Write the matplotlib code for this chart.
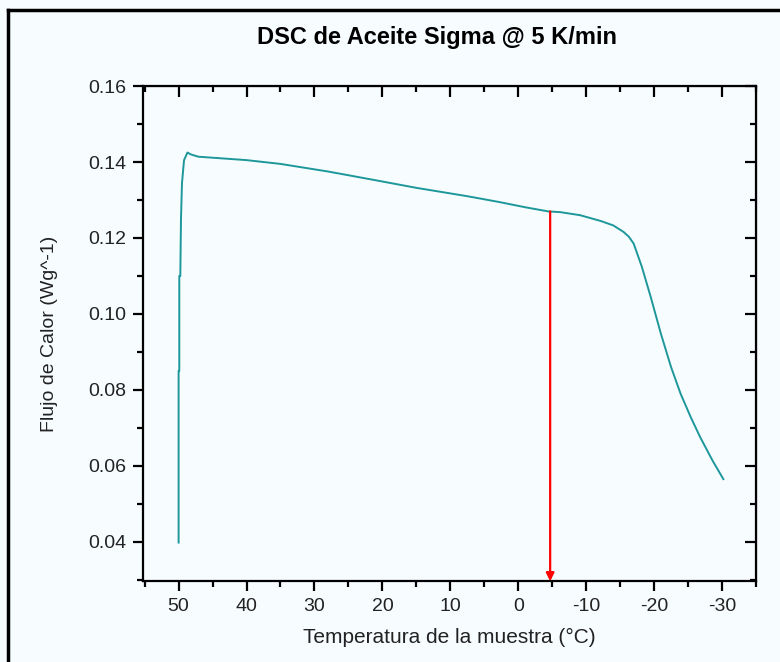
import numpy as np
import matplotlib
matplotlib.use("Agg")
import matplotlib.pyplot as plt
from matplotlib.lines import Line2D
from matplotlib.ticker import MultipleLocator

plt.rcParams["font.family"] = ["Liberation Sans", "DejaVu Sans"]
plt.rcParams["axes.unicode_minus"] = False

# DSC trace (temperature in °C, heat flow in W/g)
temp = [50.0, 50.0, 49.9, 49.9, 49.75, 49.65, 49.5, 49.2, 48.7, 48.2, 47.1,
        40.0, 35.0, 28.0, 21.3, 15.0, 7.5, 2.9, -1.0, -4.4, -6.2, -9.1, -12.1,
        -14.0, -15.5, -16.3, -17.0, -18.2, -19.5, -21.0, -22.5, -23.9, -25.4,
        -26.8, -28.6, -30.2]
flow = [0.0398, 0.085, 0.085, 0.110, 0.110, 0.125, 0.1345, 0.1405, 0.1425, 0.1420, 0.1414,
        0.1405, 0.1395, 0.1375, 0.1353, 0.1332, 0.1310, 0.1295, 0.1281, 0.1270, 0.1268,
        0.1260, 0.1245, 0.1233, 0.1216, 0.1203, 0.1185, 0.1124, 0.1045, 0.0948, 0.0860,
        0.0790, 0.0728, 0.0675, 0.0614, 0.0565]

# red marker arrow
arrow_temp = -4.7
arrow_top = 0.1270

xlim = (55.2, -35.0)
ylim = (0.0296, 0.16)

fig = plt.figure(figsize=(7.8, 6.62), dpi=100, facecolor="#f7fdff")
ax = fig.add_axes([0.1837, 0.1219, 0.7855, 0.7481])
ax.set_facecolor("#f7fdff")

ax.plot(temp, flow, color="#1e979b", lw=1.4)

ax.annotate("", xy=(arrow_temp, ylim[0]), xytext=(arrow_temp, arrow_top),
            arrowprops=dict(arrowstyle="-|>", color="#ff0000", lw=1.6,
                            mutation_scale=12, shrinkA=0, shrinkB=0))

ax.set_xlim(*xlim)
ax.set_ylim(*ylim)
ax.xaxis.set_major_locator(MultipleLocator(10))
ax.xaxis.set_minor_locator(MultipleLocator(5))
ax.yaxis.set_major_locator(MultipleLocator(0.02))
ax.yaxis.set_minor_locator(MultipleLocator(0.01))
ax.yaxis.set_major_formatter(plt.FormatStrFormatter("%.2f"))

for s in ax.spines.values():
    s.set_linewidth(1.6)

ax.tick_params(which="major", direction="out", length=7, width=1.6,
               labelsize=14, colors="black", labelcolor="#222222", pad=5)
ax.tick_params(which="minor", direction="out", length=4, width=1.6)

# mirrored ticks on top/right point inwards
top = ax.secondary_xaxis("top")
top.xaxis.set_major_locator(MultipleLocator(10))
top.xaxis.set_minor_locator(MultipleLocator(5))
top.tick_params(which="major", direction="in", length=8, width=1.6, labeltop=False)
top.tick_params(which="minor", direction="in", length=4, width=1.6)
right = ax.secondary_yaxis("right")
right.yaxis.set_major_locator(MultipleLocator(0.02))
right.yaxis.set_minor_locator(MultipleLocator(0.01))
right.tick_params(which="major", direction="in", length=8, width=1.6, labelright=False)
right.tick_params(which="minor", direction="in", length=4, width=1.6)

ax.set_xlabel("Temperatura de la muestra (°C)", fontsize=15, color="#222222", labelpad=9)
ax.set_ylabel("Flujo de Calor (Wg^-1)", fontsize=14, color="#222222", labelpad=22)
fig.text(0.56, 0.943, "DSC de Aceite Sigma @ 5 K/min", ha="center", va="center",
         fontsize=17, fontweight="bold")

# picture frame (left and top edges)
fig.add_artist(Line2D([0.0103, 0.0103], [0.0, 0.985], color="black", lw=2.5,
                      transform=fig.transFigure))
fig.add_artist(Line2D([0.0103, 1.0], [0.985, 0.985], color="black", lw=2.5,
                      transform=fig.transFigure))

fig.savefig("out.png", dpi=100, facecolor=fig.get_facecolor())
